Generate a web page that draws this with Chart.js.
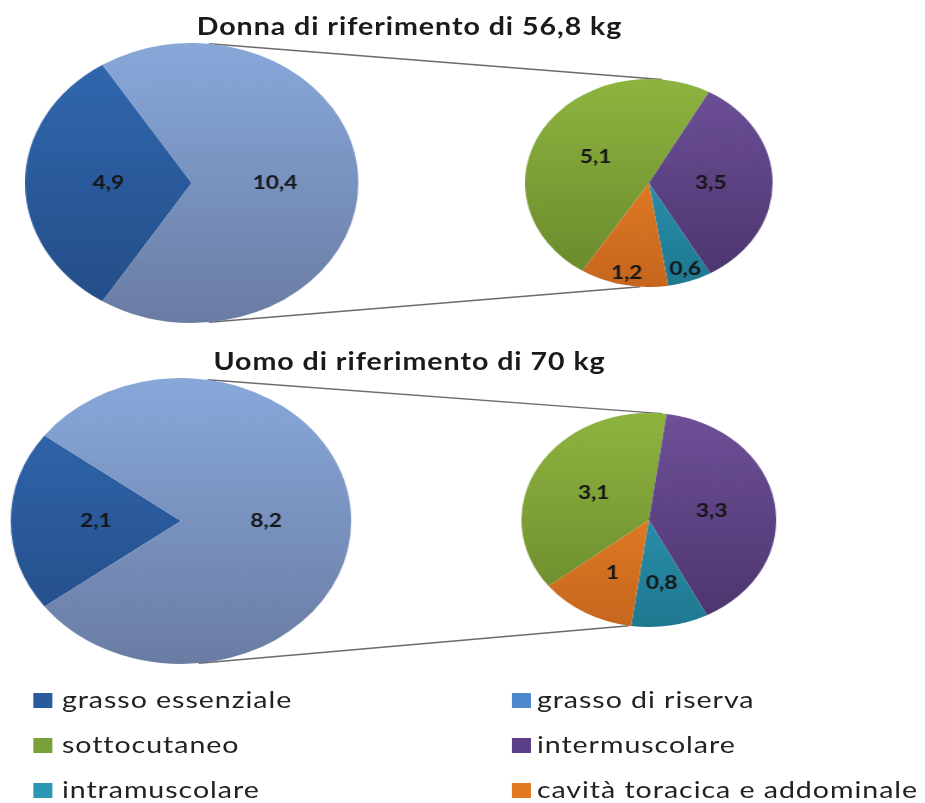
<!DOCTYPE html>
<html><head><meta charset="utf-8">
<script src="https://cdn.jsdelivr.net/npm/chart.js@4.4.1/dist/chart.umd.min.js"></script>
<style>
html,body{margin:0;padding:0;background:#fff;}
#wrap{position:absolute;left:0;top:0;width:777px;height:803px;transform:scaleX(1.1905);transform-origin:0 0;font-family:Lato,'Open Sans',sans-serif;color:#1a1a1a;}
.pie{position:absolute;}
.title{position:absolute;left:0;width:688px;text-align:center;font-weight:bold;font-size:24px;line-height:28px;letter-spacing:0.8px;}
.leg{position:absolute;font-size:24px;line-height:28px;white-space:nowrap;letter-spacing:0.8px;color:#222;}
.sw{position:absolute;width:16px;height:15px;}
</style></head><body>
<div id="wrap">
  <canvas id="lines" width="777" height="803" style="position:absolute;left:0;top:0"></canvas>
</div>
<script>
// ---- data ----
const categories = ['grasso essenziale','grasso di riserva','sottocutaneo','intermuscolare','intramuscolare','cavità toracica e addominale'];
const titles = ['Donna di riferimento di 56,8 kg','Uomo di riferimento di 70 kg'];
const mainLabels = ['grasso essenziale','grasso di riserva'];
const reserveLabels = ['sottocutaneo','intermuscolare','intramuscolare','cavità toracica e addominale'];
const womanMain = [4.9, 10.4];
const womanReserve = [5.1, 3.5, 0.6, 1.2];
const manMain = [2.1, 8.2];
const manReserve = [3.1, 3.3, 0.8, 1];

// ---- styles ----
const grads = {
  'grasso essenziale': ['#3269b2','#224b84'],
  'grasso di riserva': ['#88a8da','#6a7ca3'],
  'sottocutaneo': ['#8eb43f','#68882c'],
  'intermuscolare': ['#6e5098','#4b346d'],
  'intramuscolare': ['#31a2c2','#1f7890'],
  'cavità toracica e addominale': ['#f38d2b','#c6661e']
};
const swatch = {
  'grasso essenziale':'#2a5b9c','grasso di riserva':'#4d87cc','sottocutaneo':'#78a13a',
  'intermuscolare':'#5b3e88','intramuscolare':'#2c97b3','cavità toracica e addominale':'#e0791f'
};
const layout = [
  {titleTop:12, big:{cx:161,cy:183,r:140}, small:{cx:544.5,cy:183,r:104}, smallRot:212.5, smallLabelR:[0.5,0.5,0.88,0.88],
   lineBig:[6,174], lineSmall:[6,184]},
  {titleTop:347, big:{cx:152,cy:521,r:143}, small:{cx:544.5,cy:520,r:107}, smallRot:231.9, smallLabelR:[0.5,0.5,0.6,0.57],
   lineBig:[9,174], lineSmall:[6,189]}
];

const wrap = document.getElementById('wrap');
const fmt = v => v.toLocaleString('it-IT');

function grad(ctx, pair){
  const ch = ctx.chart, a = ch.chartArea;
  if(!a) return pair[0];
  const g = ch.ctx.createLinearGradient(0,a.top,0,a.bottom);
  g.addColorStop(0,pair[0]); g.addColorStop(1,pair[1]);
  return g;
}
const labelPlugin = {id:'vals', afterDatasetsDraw(chart){
  const ctx = chart.ctx, meta = chart.getDatasetMeta(0), ds = chart.data.datasets[0];
  meta.data.forEach((arc,i)=>{
    const mid = (arc.startAngle+arc.endAngle)/2, rr = arc.outerRadius*ds.labelR[i];
    ctx.save();
    ctx.font = 'bold 19px Lato, sans-serif';
    ctx.fillStyle = '#161616'; ctx.textAlign='center'; ctx.textBaseline='middle';
    ctx.fillText(fmt(ds.data[i]), arc.x+Math.cos(mid)*rr, arc.y+Math.sin(mid)*rr);
    ctx.restore();
  });
}};

function makePie(pos, data, labels, rotation, labelR){
  const d = document.createElement('div');
  d.className='pie';
  const size = Math.round(2*pos.r);
  d.style.left=(pos.cx-pos.r)+'px'; d.style.top=(pos.cy-pos.r)+'px';
  d.style.width=size+'px'; d.style.height=size+'px';
  const c = document.createElement('canvas');
  c.width=size; c.height=size;
  d.appendChild(c); wrap.appendChild(d);
  const ch = new Chart(c,{type:'pie',
    data:{labels, datasets:[{data, labelR, borderWidth:0,
      backgroundColor: ctx => grad(ctx, grads[labels[ctx.dataIndex]])}]},
    options:{responsive:false, animation:false, devicePixelRatio:1, rotation,
      layout:{padding:0}, plugins:{legend:{display:false}, tooltip:{enabled:false}}},
    plugins:[labelPlugin]});
  ch._box = d;
  return ch;
}

function edge(ch, deg){
  const arc = ch.getDatasetMeta(0).data[0];
  const t = deg*Math.PI/180;
  return [ch._box.offsetLeft + arc.x + arc.outerRadius*Math.sin(t),
          ch._box.offsetTop + arc.y - arc.outerRadius*Math.cos(t)];
}

const lctx = document.getElementById('lines').getContext('2d');
[[womanMain,womanReserve],[manMain,manReserve]].forEach((pair,k)=>{
  const L = layout[k];
  const t = document.createElement('div');
  t.className='title'; t.style.top=L.titleTop+'px'; t.textContent=titles[k];
  wrap.appendChild(t);
  const mainSweep = pair[0][0]/(pair[0][0]+pair[0][1])*360;
  const big = makePie(L.big, pair[0], mainLabels, 270-mainSweep/2, [0.5,0.5]);
  const small = makePie(L.small, pair[1], reserveLabels, L.smallRot, L.smallLabelR);
  lctx.strokeStyle='#6b6b6b'; lctx.lineWidth=1.4;
  for(let j=0;j<2;j++){
    const a = edge(big, L.lineBig[j]), b = edge(small, L.lineSmall[j]);
    lctx.beginPath(); lctx.moveTo(a[0],a[1]); lctx.lineTo(b[0],b[1]); lctx.stroke();
  }
});

// legend
const legRows = [685, 730, 775];
const legCols = [[28,52],[430,451]];
categories.forEach((name,i)=>{
  const r = Math.floor(i/2), c = i%2;
  const s = document.createElement('div');
  s.className='sw'; s.style.background=swatch[name];
  s.style.left=legCols[c][0]+'px'; s.style.top=(legRows[r]+8)+'px';
  wrap.appendChild(s);
  const t = document.createElement('div');
  t.className='leg'; t.textContent=name;
  t.style.left=legCols[c][1]+'px'; t.style.top=legRows[r]+'px';
  wrap.appendChild(t);
});
</script>
</body></html>
